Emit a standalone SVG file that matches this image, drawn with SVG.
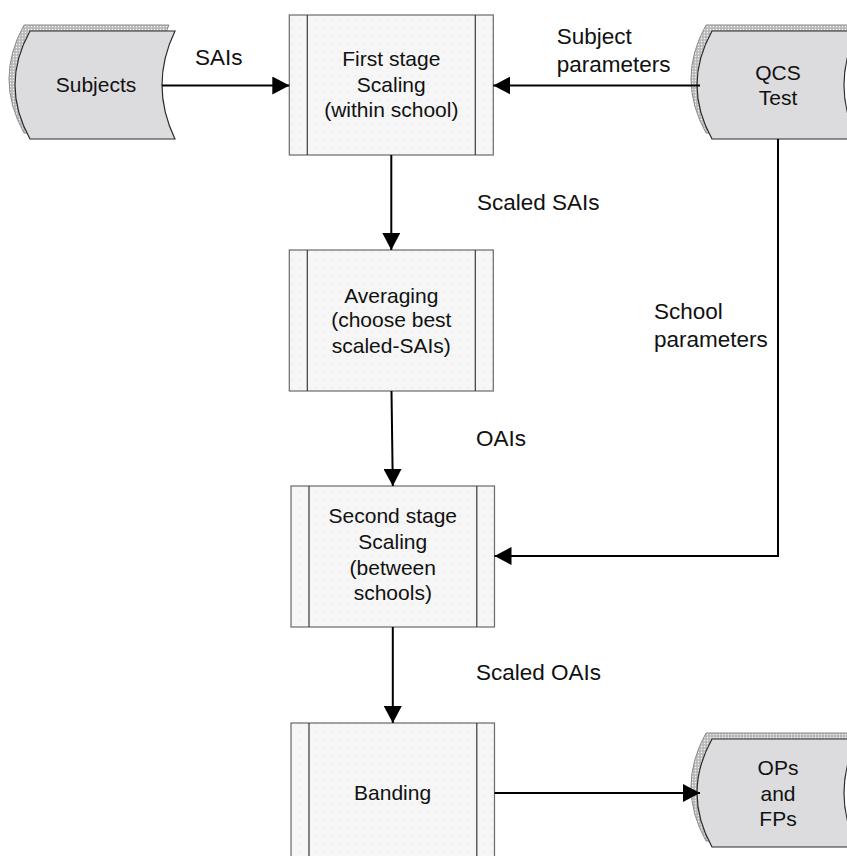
<svg xmlns="http://www.w3.org/2000/svg" xmlns:xlink="http://www.w3.org/1999/xlink" width="847" height="856" viewBox="0 0 847 856">
<defs>
<pattern id="dots" width="8" height="8" patternUnits="userSpaceOnUse">
<rect width="8" height="8" fill="#f6f6f6"/>
<circle cx="4" cy="4" r="0.7" fill="#e4e4e4"/>
</pattern>
<pattern id="band" width="3" height="3" patternUnits="userSpaceOnUse">
<rect width="3" height="3" fill="#b4b4b4"/>
<rect x="0.75" y="0.75" width="1.5" height="1.5" fill="#f4f4f4"/>
</pattern>
<path id="data" d="M0,0 L145,0 Q119,54 145,108 L0,108 Q-30,54 0,0 Z"/>
<marker id="arrow" markerWidth="17" markerHeight="18" refX="17" refY="9" orient="auto" markerUnits="userSpaceOnUse">
<path d="M0,0 L17,9 L0,18 Z" fill="#000"/>
</marker>
</defs>
<style>
.box{fill:url(#dots);stroke:#6a6a6a;stroke-width:1.2}
.inner{stroke:#3a3a3a;stroke-width:1.2}
.bandshape{fill:url(#band);stroke:#8a8a8a;stroke-width:1}
.datashape{fill:#dcdcde;stroke:#2a2a2a;stroke-width:1.2}
.t{font-family:"Liberation Sans",Arial,sans-serif;font-size:21px;fill:#111;text-anchor:middle}
.lbl{font-family:"Liberation Sans",Arial,sans-serif;font-size:22.5px;fill:#111}
.conn{fill:none;stroke:#000;stroke-width:2}
</style>
<rect width="847" height="856" fill="#fff"/>

<g id="subjects">
<use xlink:href="#data" href="#data" class="bandshape" transform="translate(24,25)"/>
<use xlink:href="#data" href="#data" class="datashape" transform="translate(30,31)"/>
<text class="t" x="96" y="92">Subjects</text>
</g>

<g id="qcs-test">
<use xlink:href="#data" href="#data" class="bandshape" transform="translate(706,25)"/>
<use xlink:href="#data" href="#data" class="datashape" transform="translate(712,31)"/>
<text class="t" x="778" y="80">QCS</text>
<text class="t" x="778" y="105">Test</text>
</g>

<g id="ops-fps">
<use xlink:href="#data" href="#data" class="bandshape" transform="translate(706,733)"/>
<use xlink:href="#data" href="#data" class="datashape" transform="translate(712,739)"/>
<text class="t" x="778" y="775">OPs</text>
<text class="t" x="778" y="800.5">and</text>
<text class="t" x="778" y="825.5">FPs</text>
</g>

<g id="first-stage">
<rect class="box" x="289.3" y="15" width="204" height="140"/>
<line class="inner" x1="307.3" y1="15" x2="307.3" y2="155"/>
<line class="inner" x1="475.3" y1="15" x2="475.3" y2="155"/>
<text class="t" x="391.3" y="65.7">First stage</text>
<text class="t" x="391.3" y="91.5">Scaling</text>
<text class="t" x="391.3" y="117.3">(within school)</text>
</g>

<g id="averaging">
<rect class="box" x="289.3" y="250" width="204" height="141"/>
<line class="inner" x1="307.3" y1="250" x2="307.3" y2="391"/>
<line class="inner" x1="475.3" y1="250" x2="475.3" y2="391"/>
<text class="t" x="391.3" y="302.5">Averaging</text>
<text class="t" x="391.3" y="327.3">(choose best</text>
<text class="t" x="391.3" y="352.5">scaled-SAIs)</text>
</g>

<g id="second-stage">
<rect class="box" x="291" y="486" width="203.5" height="141"/>
<line class="inner" x1="309" y1="486" x2="309" y2="627"/>
<line class="inner" x1="476.8" y1="486" x2="476.8" y2="627"/>
<text class="t" x="392.8" y="523.3">Second stage</text>
<text class="t" x="392.8" y="549">Scaling</text>
<text class="t" x="392.8" y="574.5">(between</text>
<text class="t" x="392.8" y="600">schools)</text>
</g>

<g id="banding">
<rect class="box" x="291" y="723" width="203.5" height="141"/>
<line class="inner" x1="309" y1="723" x2="309" y2="864"/>
<line class="inner" x1="476.8" y1="723" x2="476.8" y2="864"/>
<text class="t" x="392.6" y="800">Banding</text>
</g>

<g id="connectors">
<line class="conn" x1="162" y1="85.5" x2="289.3" y2="85.5" marker-end="url(#arrow)"/>
<line class="conn" x1="700" y1="85.5" x2="493.3" y2="85.5" marker-end="url(#arrow)"/>
<line class="conn" x1="391.3" y1="155" x2="391.3" y2="250" marker-end="url(#arrow)"/>
<line class="conn" x1="391.5" y1="391" x2="392.8" y2="486" marker-end="url(#arrow)"/>
<line class="conn" x1="392.8" y1="627" x2="392.8" y2="723" marker-end="url(#arrow)"/>
<polyline class="conn" points="778,139 778,556 494.5,556" marker-end="url(#arrow)"/>
<line class="conn" x1="494.5" y1="793" x2="700" y2="793" marker-end="url(#arrow)"/>
<text class="lbl" x="195" y="65">SAIs</text>
<text class="lbl" x="556.7" y="44.3">Subject</text>
<text class="lbl" x="556.7" y="71.7">parameters</text>
<text class="lbl" x="477" y="210">Scaled SAIs</text>
<text class="lbl" x="654" y="319.3">School</text>
<text class="lbl" x="654" y="346.7">parameters</text>
<text class="lbl" x="476" y="446">OAIs</text>
<text class="lbl" x="476" y="680">Scaled OAIs</text>
</g>
</svg>
